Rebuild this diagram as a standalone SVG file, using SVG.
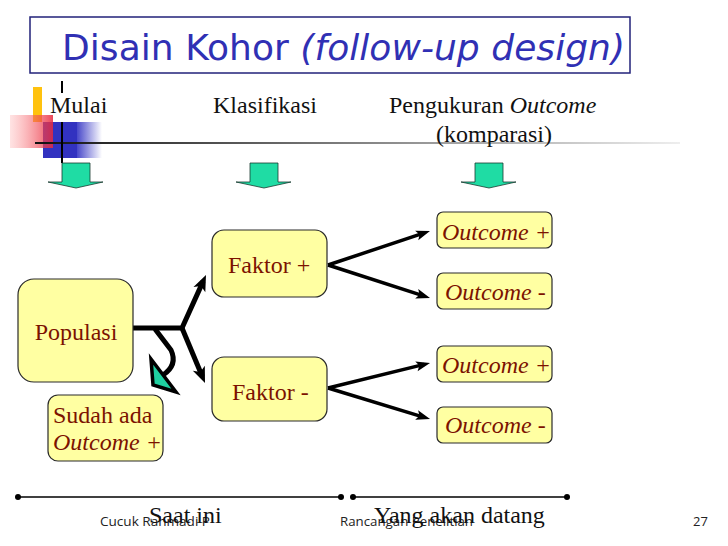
<svg xmlns="http://www.w3.org/2000/svg" width="728" height="546" viewBox="0 0 728 546">
<style>
.box{fill:#ffffa2;stroke:#2a2a2a;stroke-width:1.2}
.nt{font-family:"Liberation Serif","Times New Roman",serif;font-size:24px;fill:#7c1200}
.hd{font-family:"Liberation Serif","Times New Roman",serif;font-size:24px;fill:#111}
.ft{font-family:"Open Sans","DejaVu Sans",sans-serif;font-size:13px;fill:#222}
.garrow{fill:#1fdca4;stroke:#1a3a30;stroke-width:0.8}
.thick{fill:none;stroke:#000;stroke-width:5;stroke-linejoin:miter}
.thin{fill:none;stroke:#000;stroke-width:3.5}
</style>
<defs>
<linearGradient id="redg" x1="0" y1="0" x2="1" y2="0">
<stop offset="0" stop-color="#ff9090" stop-opacity="0.25"/>
<stop offset="1" stop-color="#e8283c" stop-opacity="0.85"/>
</linearGradient>
<linearGradient id="blueg" x1="0" y1="0" x2="1" y2="0">
<stop offset="0" stop-color="#3434c4" stop-opacity="0.9"/>
<stop offset="1" stop-color="#3434c4" stop-opacity="0"/>
</linearGradient>
<linearGradient id="lineg" x1="35" y1="0" x2="680" y2="0" gradientUnits="userSpaceOnUse">
<stop offset="0" stop-color="#111"/>
<stop offset="0.45" stop-color="#777"/>
<stop offset="1" stop-color="#eeeeee"/>
</linearGradient>
<marker id="ahT" viewBox="-10 -7 18 14" markerWidth="18" markerHeight="14" refX="0" refY="0" orient="auto" markerUnits="userSpaceOnUse">
<path d="M-9,-6.5 L7,0 L-9,6.5 L-5,0 z" fill="#000"/>
</marker>
<marker id="ahS" viewBox="-10 -6 18 12" markerWidth="18" markerHeight="12" refX="0" refY="0" orient="auto" markerUnits="userSpaceOnUse">
<path d="M-8,-5 L6,0 L-8,5 L-5,0 z" fill="#000"/>
</marker>
</defs>
<rect width="728" height="546" fill="#fff"/>

<g id="decor">
<rect x="33" y="87" width="9" height="35" fill="#ffc20e"/>
<rect x="43" y="122" width="34" height="36" fill="#3232c0"/>
<rect x="77" y="122" width="25" height="36" fill="url(#blueg)"/>
<rect x="10" y="115" width="43" height="33" fill="url(#redg)"/>
<line x1="35" y1="143" x2="680" y2="143" stroke="url(#lineg)" stroke-width="2"/>
<line x1="62" y1="122" x2="62" y2="163" stroke="#000" stroke-width="2"/>
<line x1="62" y1="81" x2="62" y2="93" stroke="#000" stroke-width="2"/>
</g>

<g id="title">
<rect x="30" y="17" width="600" height="56" fill="#fff" stroke="#22227a" stroke-width="1.5"/>
<text x="62" y="60" font-family="'DejaVu Sans',Verdana,sans-serif" font-size="36" fill="#3030b4" textLength="563" lengthAdjust="spacing">Disain Kohor <tspan font-style="italic">(follow-up design)</tspan></text>
</g>

<g id="headers">
<text class="hd" x="50" y="113">Mulai</text>
<text class="hd" x="213" y="113" textLength="104" lengthAdjust="spacing">Klasifikasi</text>
<text class="hd" x="389" y="113">Pengukuran <tspan font-style="italic">Outcome</tspan></text>
<text class="hd" x="494" y="142" text-anchor="middle">(komparasi)</text>
<polygon class="garrow" points="62,163 90,163 90,182 103,182 76,188 48,182 62,182"/>
<polygon class="garrow" points="250,163 278,163 278,182 291,182 264,188 236,182 250,182"/>
<polygon class="garrow" points="475,163 503,163 503,182 516,182 489,188 461,182 475,182"/>
</g>

<g id="connectors">
<path class="thick" d="M133,328 H182 L203.1,281.4" marker-end="url(#ahT)"/>
<path class="thick" d="M182,328 L202.3,376.5" marker-end="url(#ahT)"/>
<path class="thick" d="M155,329 L171,350 Q178,365 163,375"/>
<polygon points="151,359 176,392 153,385" fill="#1fd0a0" stroke="#000" stroke-width="3.5" stroke-linejoin="miter"/>
<path class="thin" d="M328,265 L424.3,232.9" marker-end="url(#ahS)"/>
<path class="thin" d="M328,265 L424.3,296.2" marker-end="url(#ahS)"/>
<path class="thin" d="M328,388 L424.2,364.4" marker-end="url(#ahS)"/>
<path class="thin" d="M328,388 L424.3,417.3" marker-end="url(#ahS)"/>
</g>

<g id="populasi">
<rect class="box" x="18" y="279" width="115" height="103" rx="16"/>
<text class="nt" x="76" y="340" text-anchor="middle">Populasi</text>
</g>
<g id="sudah-ada">
<rect class="box" x="48" y="395" width="115" height="66" rx="10"/>
<text class="nt" x="53" y="423">Sudah ada</text>
<text class="nt" x="53" y="450" font-style="italic">Outcome +</text>
</g>
<g id="faktor-plus">
<rect class="box" x="212" y="230" width="115" height="67" rx="12"/>
<text class="nt" x="228" y="273">Faktor +</text>
</g>
<g id="faktor-minus">
<rect class="box" x="212" y="357" width="115" height="64" rx="12"/>
<text class="nt" x="232" y="400">Faktor -</text>
</g>
<g id="outcome1">
<rect class="box" x="437" y="212" width="115" height="36" rx="6"/>
<text class="nt" x="442" y="240" font-style="italic">Outcome +</text>
</g>
<g id="outcome2">
<rect class="box" x="437" y="273" width="115" height="36" rx="6"/>
<text class="nt" x="445" y="300" font-style="italic">Outcome -</text>
</g>
<g id="outcome3">
<rect class="box" x="437" y="346" width="115" height="36" rx="6"/>
<text class="nt" x="442" y="373" font-style="italic">Outcome +</text>
</g>
<g id="outcome4">
<rect class="box" x="437" y="407" width="115" height="36" rx="6"/>
<text class="nt" x="445" y="433" font-style="italic">Outcome -</text>
</g>

<g id="timeline">
<line x1="18" y1="497" x2="341" y2="497" stroke="#000" stroke-width="1.5"/>
<line x1="353" y1="497" x2="567" y2="497" stroke="#000" stroke-width="1.5"/>
<circle cx="18" cy="497" r="3" fill="#000"/>
<circle cx="341" cy="497" r="3" fill="#000"/>
<circle cx="353" cy="497" r="3" fill="#000"/>
<circle cx="567" cy="497" r="3" fill="#000"/>
</g>

<g id="footer">
<text class="ft" x="100" y="526" textLength="110" lengthAdjust="spacingAndGlyphs">Cucuk Rahmadi P</text>
<text class="ft" x="340" y="526" textLength="133" lengthAdjust="spacingAndGlyphs">Rancangan Penelitian</text>
<text class="ft" x="693" y="526" font-size="14">27</text>
<text class="hd" x="149" y="523">Saat ini</text>
<text class="hd" x="374" y="523">Yang akan datang</text>
</g>
</svg>
